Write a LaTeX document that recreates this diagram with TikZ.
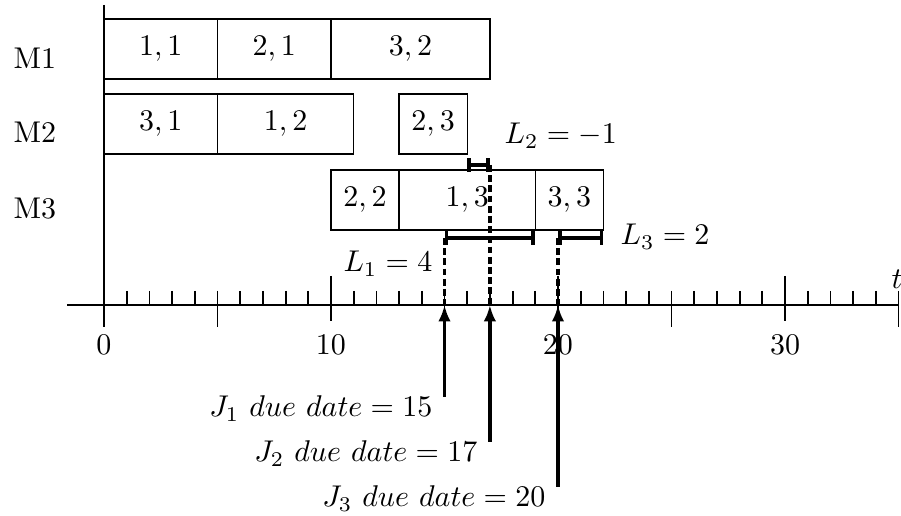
\documentclass[tikz,border=0pt]{standalone}
\usetikzlibrary{arrows.meta}
\newcommand\jobnode[5]{\node[jobbox, minimum width={(#3-#2)*7.5667pt}] (#1) at ({104+22.7*(#2+#3)/2},#4) {$#5$};}
\begin{document}
\begin{tikzpicture}[x=0.33333pt,y=-0.33333pt,
  jobbox/.style={draw, line width=0.45pt, inner sep=0pt, minimum height=20pt},
  axisline/.style={line width=0.9pt},
  tickline/.style={line width=0.6pt},
  dueline/.style={line width=1.3pt, dash pattern=on 2.3pt off 1.1pt},
  lateness/.style={line width=1.3pt, {Bar[width=4.5pt]}-{Bar[width=4.5pt]}},
  duearrow/.style={line width=1.2pt, -{Latex[length=5.5pt,width=4.2pt]}},
  lbl/.style={inner sep=0pt}]
\useasboundingbox (0,0) rectangle (901,516);
% machine rows
\node[lbl, anchor=base west] (m1) at (13,69) {M1};
\node[lbl, anchor=base west] (m2) at (13,143) {M2};
\node[lbl, anchor=base west] (m3) at (13,219) {M3};
% jobs
\jobnode{a11}{0}{5}{49}{1,1}
\jobnode{a21}{5}{10}{49}{2,1}
\jobnode{a32}{10}{17}{49}{3,2}
\jobnode{b31}{0}{5}{124}{3,1}
\jobnode{b12}{5}{11}{124}{1,2}
\jobnode{b23}{13}{16}{124}{2,3}
\jobnode{c22}{10}{13}{200}{2,2}
\jobnode{c13}{13}{19}{200}{1,3}
\jobnode{c33}{19}{22}{200}{3,3}
% axes
\coordinate (xl) at (67,305);
\coordinate (xr) at (899,305);
\coordinate (yt) at (104,5);
\coordinate (yb) at (104,327);
\draw[axisline] (xl) -- (xr);
\draw[axisline] (yt) -- (yb);
\foreach \i in {1,...,34} \draw[tickline] ({104+22.7*\i},291) -- ({104+22.7*\i},305);
\foreach \i in {5,15,25,35} \draw[tickline] ({104+22.7*\i},291) -- ({104+22.7*\i},327);
\foreach \i in {10,20,30} \draw[tickline] ({104+22.7*\i},276) -- ({104+22.7*\i},321);
\foreach \i in {0,10,20,30} \node[lbl, anchor=base] (n\i) at ({104+22.7*\i},355) {$\i$};
\node[lbl] (tl) at (897,279) {$t$};
% due-date coordinates
\coordinate (d15) at (444.5,305);
\coordinate (d17) at (489.9,305);
\coordinate (d20) at (558,305);
\coordinate (d15t) at (444.5,238);
\coordinate (d17t) at (489.9,165);
\coordinate (d20t) at (558,238);
\coordinate (e19) at (535.3,238);
\coordinate (e16) at (467.2,165);
\coordinate (e22) at (603.4,238);
\draw[dueline] (d15t) -- (d15);
\draw[dueline] (d17t) -- (d17);
\draw[dueline] (d20t) -- (d20);
\draw[lateness] (d15t) -- (e19);
\draw[lateness] (e16) -- (d17t);
\draw[lateness] (d20t) -- (e22);
\node[lbl, anchor=base east] (l1) at (433,272) {$L_1=4$};
\node[lbl, anchor=base west] (l2) at (504,144) {$L_2=-1$};
\node[lbl, anchor=base west] (l3) at (620,245) {$L_3=2$};
% due date arrows
\coordinate (a15) at (444.5,397);
\coordinate (a17) at (489.9,442);
\coordinate (a20) at (558,487);
\draw[duearrow] (a15) -- (d15);
\draw[duearrow] (a17) -- (d17);
\draw[duearrow] (a20) -- (d20);
\node[lbl, anchor=base east] (j1) at (433,417) {$J_1\ due\ date=15$};
\node[lbl, anchor=base east] (j2) at (478,462) {$J_2\ due\ date=17$};
\node[lbl, anchor=base east] (j3) at (546,507) {$J_3\ due\ date=20$};
\end{tikzpicture}
\end{document}
